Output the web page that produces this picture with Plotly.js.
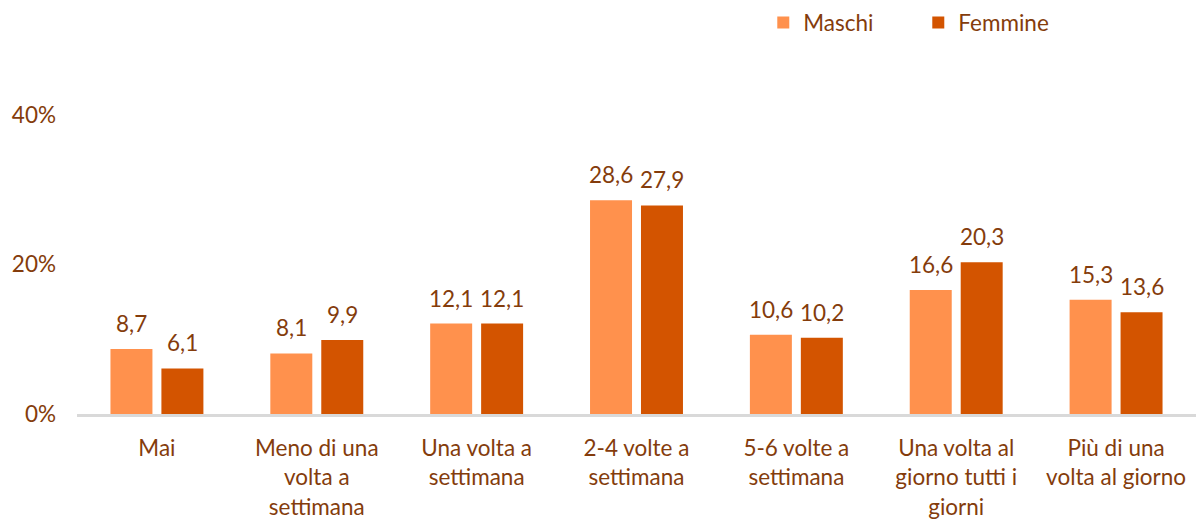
<!DOCTYPE html>
<html>
<head>
<meta charset="utf-8">
<script src="https://cdn.plot.ly/plotly-3.0.1.min.js"></script>
<style>html,body{margin:0;padding:0;background:#fff;}#chart{width:1196px;height:526px;}</style>
</head>
<body>
<div id="chart"></div>
<script>
const categories = [
  "Mai",
  "Meno di una<br>volta a<br>settimana",
  "Una volta a<br>settimana",
  "2-4 volte a<br>settimana",
  "5-6 volte a<br>settimana",
  "Una volta al<br>giorno tutti i<br>giorni",
  "Più di una<br>volta al giorno"
];
const maschi = [8.7, 8.1, 12.1, 28.6, 10.6, 16.6, 15.3];
const femmine = [6.1, 9.9, 12.1, 27.9, 10.2, 20.3, 13.6];
const yTicks = [0, 20, 40];
const yTickLabels = ["0%", "20%", "40%"];

const fmt = v => v.toFixed(1).replace('.', ',');
const textColor = '#843C0C';
const font = 'Lato, "Open Sans", sans-serif';
const fs = 22.5;

const traces = [
  {type:'bar', name:'Maschi', x:categories, y:maschi, marker:{color:'#FF914D'}, hoverinfo:'skip'},
  {type:'bar', name:'Femmine', x:categories, y:femmine, marker:{color:'#D35400'}, hoverinfo:'skip'}
];

const annotations = [];
[[maschi, -25.5], [femmine, 25.5]].forEach(([arr, dx]) => {
  arr.forEach((v, i) => {
    annotations.push({x:categories[i], y:v, xref:'x', yref:'y', text:fmt(v), showarrow:false,
      xshift:dx, yshift:10, yanchor:'bottom', font:{size:fs, color:textColor, family:font}});
  });
});

const layout = {
  width:1196, height:526,
  margin:{l:77, r:0, t:115, b:112},
  paper_bgcolor:'#fff', plot_bgcolor:'#fff',
  font:{family:font, size:fs, color:textColor},
  barmode:'group', bargap:0.3625, bargroupgap:0.176,
  showlegend:true,
  legend:{orientation:'h', x:0.6133, y:1.38, xanchor:'left', yanchor:'top',
          entrywidth:110, itemwidth:30, font:{size:fs, color:textColor, family:font}},
  annotations:annotations,
  xaxis:{showline:true, linecolor:'#D9D9D9', linewidth:3, ticks:'', showgrid:false, ticklabelstandoff:12,
         tickfont:{size:fs, color:textColor, family:font}, automargin:false},
  yaxis:{range:[0,40], tickvals:yTicks, ticktext:yTickLabels, showgrid:false, zeroline:false,
         showline:false, ticks:'', ticklabelstandoff:20,
         tickfont:{size:fs, color:textColor, family:font}, automargin:false}
};

Plotly.newPlot('chart', traces, layout, {displayModeBar:false, staticPlot:true});
</script>
</body>
</html>
